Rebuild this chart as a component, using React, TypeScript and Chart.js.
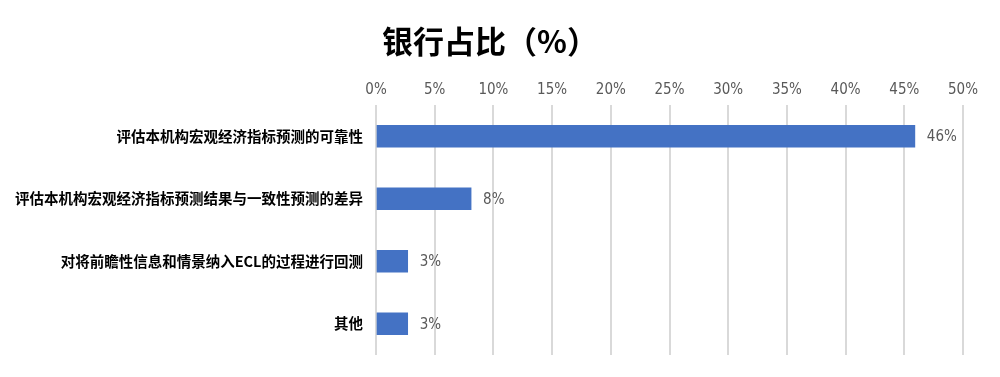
import React, { useEffect, useRef } from "react";
import { Chart, registerables } from "chart.js";

Chart.register(...registerables);

const titleText = "银行占比（%）";
const categories = [
  "评估本机构宏观经济指标预测的可靠性",
  "评估本机构宏观经济指标预测结果与一致性预测的差异",
  "对将前瞻性信息和情景纳入ECL的过程进行回测",
  "其他",
];
const values = [45.9, 8.1, 2.7, 2.7];
const valueLabels = ["46%", "8%", "3%", "3%"];
const xTicks = [0, 5, 10, 15, 20, 25, 30, 35, 40, 45, 50];

const labelPlugin = {
  id: "valueLabels",
  afterDatasetsDraw(chart: any) {
    const ctx = chart.ctx;
    const meta = chart.getDatasetMeta(0);
    ctx.save();
    ctx.font = "15px 'Liberation Sans Narrow', 'DejaVu Sans Condensed', Roboto, sans-serif";
    ctx.fillStyle = "#595959";
    ctx.textAlign = "left";
    ctx.textBaseline = "middle";
    meta.data.forEach((bar: any, i: number) => {
      ctx.fillText(valueLabels[i], bar.x + 12, bar.y + 1);
    });
    ctx.restore();
  },
};

const titlePlugin = {
  id: "centeredTitle",
  afterDraw(chart: any) {
    const ctx = chart.ctx;
    ctx.save();
    ctx.font = "bold 31px 'Noto Sans CJK SC', sans-serif";
    ctx.fillStyle = "#000000";
    ctx.textAlign = "center";
    ctx.textBaseline = "middle";
    ctx.fillText(titleText, 490, 41);
    ctx.restore();
  },
};

export default function App() {
  const ref = useRef<HTMLCanvasElement>(null);
  useEffect(() => {
    document.body.style.margin = "0";
    const chart = new Chart(ref.current!, {
      type: "bar",
      data: {
        labels: categories,
        datasets: [
          {
            data: values,
            backgroundColor: "#4472C4",
            barThickness: 22,
          },
        ],
      },
      options: {
        indexAxis: "y",
        animation: false,
        responsive: false,
        maintainAspectRatio: false,
        layout: { padding: { left: 0, right: 37, top: 75, bottom: 22 } },
        plugins: {
          legend: { display: false },
          tooltip: { enabled: false },
          title: { display: false },
        },
        scales: {
          x: {
            position: "top",
            min: 0,
            max: 50,
            afterBuildTicks(scale: any) {
              scale.ticks = xTicks.map((v) => ({ value: v }));
            },
            ticks: {
              callback: (v: any) => v + "%",
              color: "#595959",
              font: { size: 15, family: "'Liberation Sans Narrow', 'DejaVu Sans Condensed', Roboto, sans-serif" },
              padding: 6,
            },
            grid: { color: "#d9d9d9", lineWidth: 2, drawTicks: false },
            border: { display: false },
          },
          y: {
            afterFit(scale: any) {
              scale.width = 376;
            },
            ticks: {
              color: "#000000",
              font: { size: 14.5, weight: "bold", family: "'Noto Sans CJK SC', sans-serif" },
              padding: 13,
            },
            grid: { display: false, drawTicks: false },
            border: { display: false },
          },
        },
      },
      plugins: [labelPlugin, titlePlugin],
    });
    return () => chart.destroy();
  }, []);
  return <canvas ref={ref} width={1000} height={377} />;
}
